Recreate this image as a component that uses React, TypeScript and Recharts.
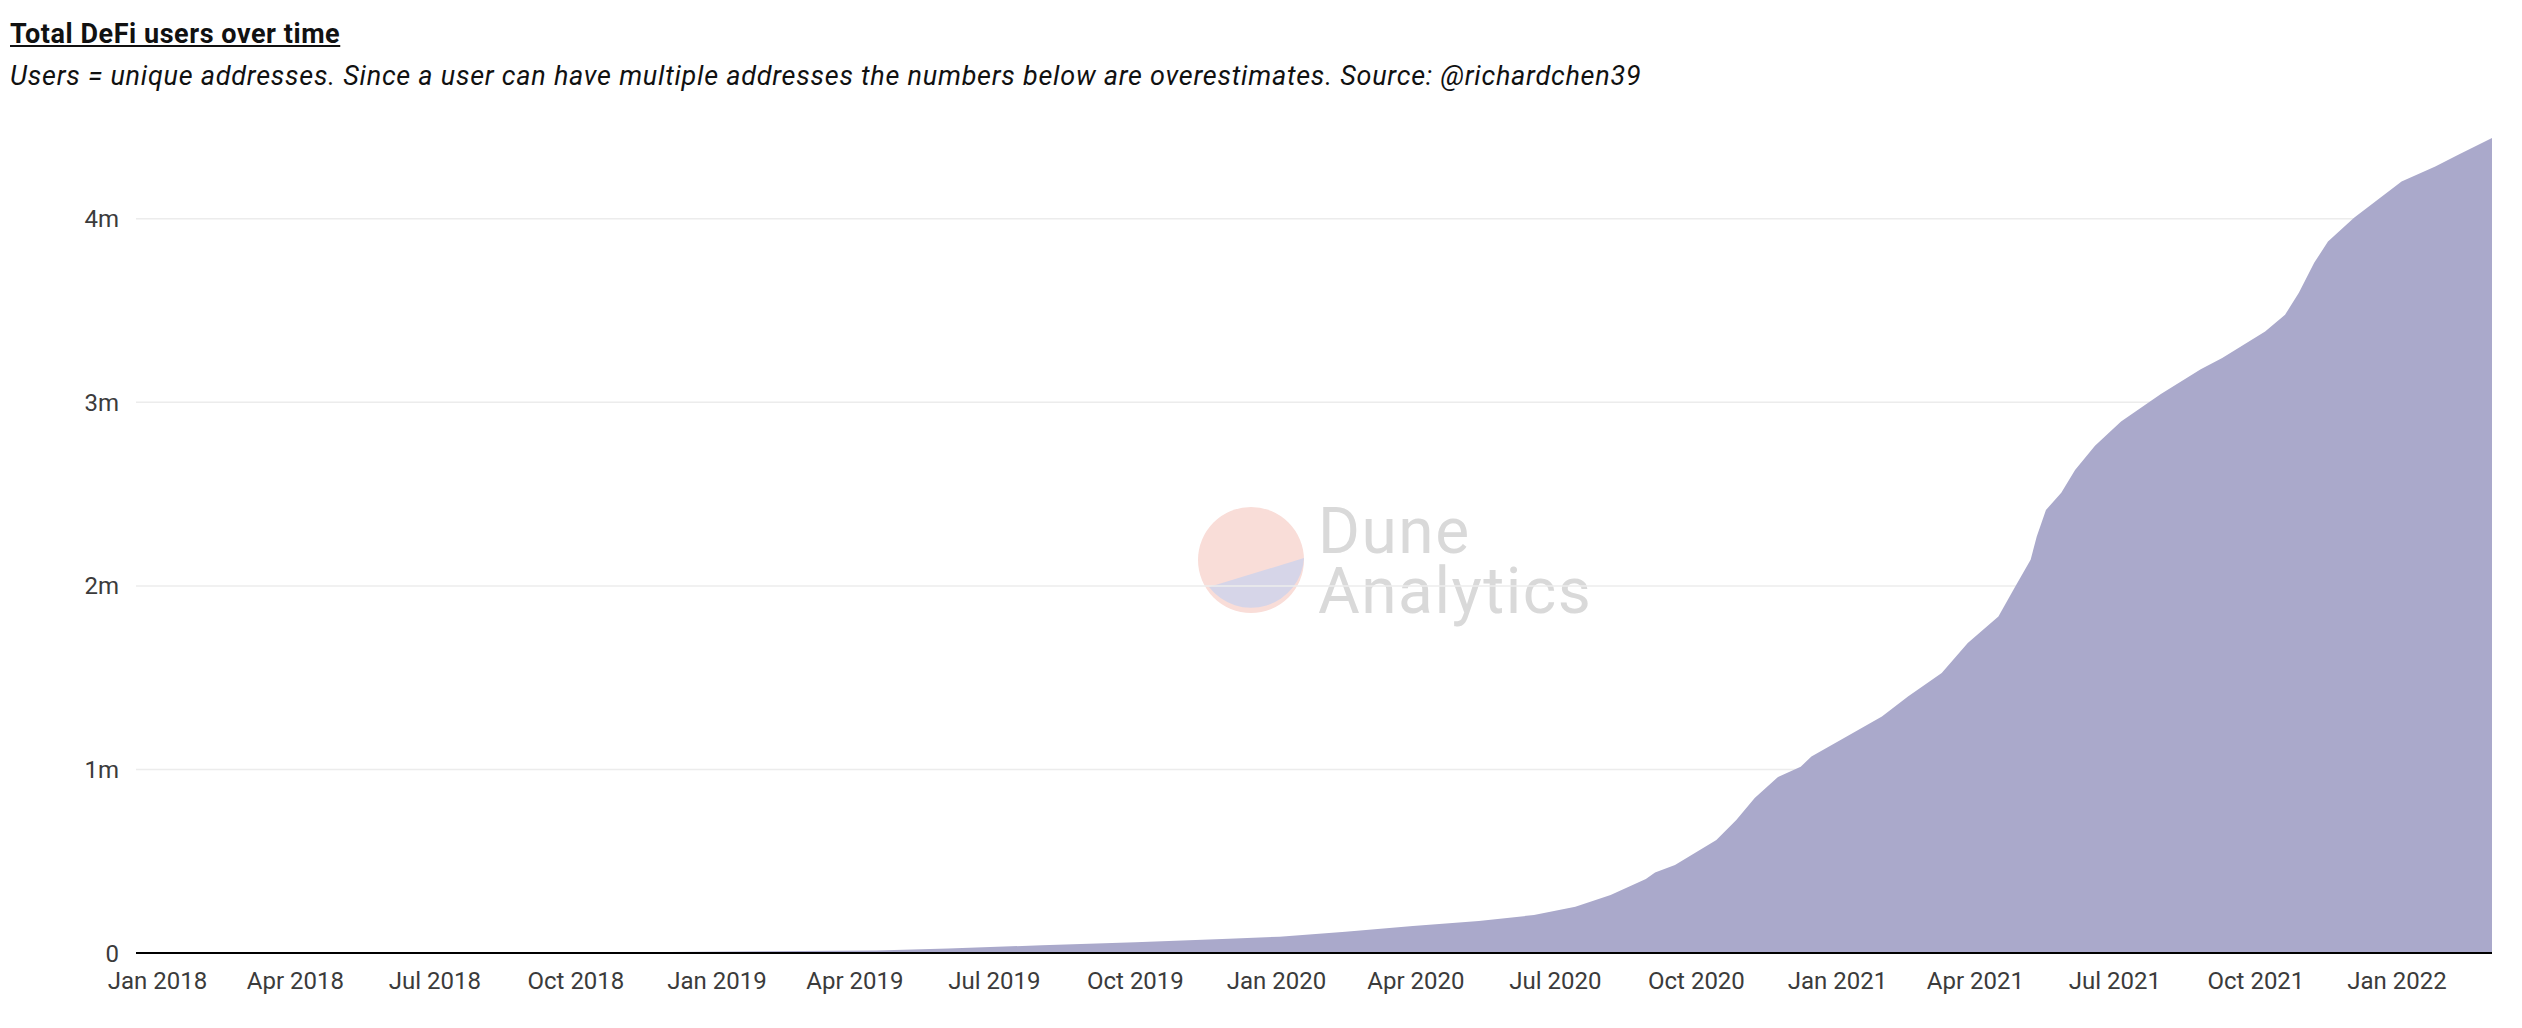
import { AreaChart, Area, XAxis, YAxis, CartesianGrid } from "recharts";

// cumulative unique DeFi addresses
const dates = [
  "2017-12-18", "2018-03-01", "2018-06-01", "2018-09-01", "2018-12-01",
  "2019-02-01", "2019-04-15", "2019-06-01", "2019-08-01", "2019-10-01",
  "2019-12-01", "2020-01-03", "2020-02-15", "2020-03-30", "2020-05-12",
  "2020-06-17", "2020-07-14", "2020-08-06", "2020-08-29", "2020-09-04",
  "2020-09-17", "2020-10-14", "2020-10-27", "2020-11-08", "2020-11-23",
  "2020-12-08", "2020-12-15", "2021-01-03", "2021-01-30", "2021-02-16",
  "2021-03-10", "2021-03-27", "2021-04-16", "2021-04-27", "2021-05-07",
  "2021-05-11", "2021-05-17", "2021-05-27", "2021-06-05", "2021-06-18",
  "2021-07-05", "2021-07-31", "2021-08-26", "2021-09-09", "2021-10-07",
  "2021-10-20", "2021-10-29", "2021-11-08", "2021-11-17", "2021-12-04",
  "2022-01-04", "2022-01-26", "2022-02-10", "2022-03-04",
];

const users = [
  1000, 2000, 3000, 4000, 6000,
  9000, 13000, 25000, 42000, 58000,
  78000, 89000, 116000, 147000, 174000,
  207000, 252000, 316000, 403000, 438000,
  480000, 616000, 725000, 845000, 958000,
  1015000, 1070000, 1161000, 1288000, 1397000,
  1526000, 1689000, 1833000, 1996000, 2142000,
  2269000, 2414000, 2507000, 2632000, 2764000,
  2895000, 3045000, 3180000, 3242000, 3386000,
  3477000, 3597000, 3760000, 3876000, 4005000,
  4203000, 4285000, 4349000, 4440000,
];

const xTickDates = [
  "2018-01-01", "2018-04-01", "2018-07-01", "2018-10-01",
  "2019-01-01", "2019-04-01", "2019-07-01", "2019-10-01",
  "2020-01-01", "2020-04-01", "2020-07-01", "2020-10-01",
  "2021-01-01", "2021-04-01", "2021-07-01", "2021-10-01",
  "2022-01-01",
];

const yTicks = [0, 1000000, 2000000, 3000000, 4000000];
const gridValues = [1000000, 2000000, 3000000, 4000000];

const MONTHS = ["Jan", "Feb", "Mar", "Apr", "May", "Jun", "Jul", "Aug", "Sep", "Oct", "Nov", "Dec"];

const toTs = (d: string) =>
  Date.UTC(Number(d.slice(0, 4)), Number(d.slice(5, 7)) - 1, Number(d.slice(8, 10)));

const data = dates.map((d, i) => ({ t: toTs(d), users: users[i] }));
const xTicks = xTickDates.map(toTs);

const fmtDate = (t: number) => {
  const d = new Date(t);
  return `${MONTHS[d.getUTCMonth()]} ${d.getUTCFullYear()}`;
};
const fmtUsers = (v: number) => (v === 0 ? "0" : `${v / 1000000}m`);

const FONT = "Roboto, 'Noto Sans', sans-serif";
const tickStyle = { fontSize: 24, fill: "#3b3b3b", fontFamily: FONT };

function Watermark() {
  return (
    <svg
      width={2522}
      height={1028}
      style={{ position: "absolute", left: 0, top: 0, pointerEvents: "none" }}
    >
      <circle cx={1251} cy={560} r={53} fill="#f9ddd8" />
      <path d="M 1209 587 L 1304 558 A 53 53 0 0 1 1209 587 Z" fill="#d6d5e8" />
      <text fontSize={64} fill="#d9d9d9" fontFamily={FONT} letterSpacing={1.5}>
        <tspan x={1318} y={553}>Dune</tspan>
        <tspan x={1318} y={613}>Analytics</tspan>
      </text>
    </svg>
  );
}

export default function App() {
  return (
    <div
      style={{
        position: "absolute",
        left: 0,
        top: 0,
        width: 2522,
        height: 1028,
        background: "#fff",
        fontFamily: FONT,
      }}
    >
      <div
        style={{
          position: "absolute",
          left: 10,
          top: 18,
          fontSize: 27,
          lineHeight: "32px",
          fontWeight: 700,
          letterSpacing: 0.55,
          textDecoration: "underline",
          color: "#111",
          whiteSpace: "nowrap",
        }}
      >
        Total DeFi users over time
      </div>
      <div
        style={{
          position: "absolute",
          left: 10,
          top: 60,
          fontSize: 27,
          lineHeight: "32px",
          fontStyle: "italic",
          letterSpacing: 0.75,
          color: "#111",
          whiteSpace: "nowrap",
        }}
      >
        Users = unique addresses. Since a user can have multiple addresses the numbers below are
        overestimates. Source: @richardchen39
      </div>
      <Watermark />
      <div style={{ position: "absolute", left: 0, top: 0 }}>
        <AreaChart
          width={2522}
          height={1028}
          data={data}
          margin={{ top: 127, right: 30, left: 0, bottom: 15 }}
        >
          <CartesianGrid
            horizontal
            vertical={false}
            horizontalValues={gridValues}
            stroke="#ececec"
            strokeWidth={1.5}
          />
          <XAxis
            dataKey="t"
            type="number"
            scale="time"
            domain={["dataMin", "dataMax"]}
            ticks={xTicks}
            tickFormatter={fmtDate}
            tick={tickStyle}
            tickLine={false}
            tickSize={0}
            tickMargin={19}
            height={60}
            axisLine={{ stroke: "#000", strokeWidth: 2 }}
            interval={0}
          />
          <YAxis
            domain={[0, 4500000]}
            ticks={yTicks}
            tickFormatter={fmtUsers}
            tick={tickStyle}
            tickLine={false}
            tickSize={0}
            tickMargin={17}
            axisLine={false}
            width={136}
            allowDataOverflow
          />
          <Area
            type="linear"
            dataKey="users"
            stroke="none"
            fill="#aaa9cb"
            fillOpacity={1}
            isAnimationActive={false}
          />
        </AreaChart>
      </div>
    </div>
  );
}
